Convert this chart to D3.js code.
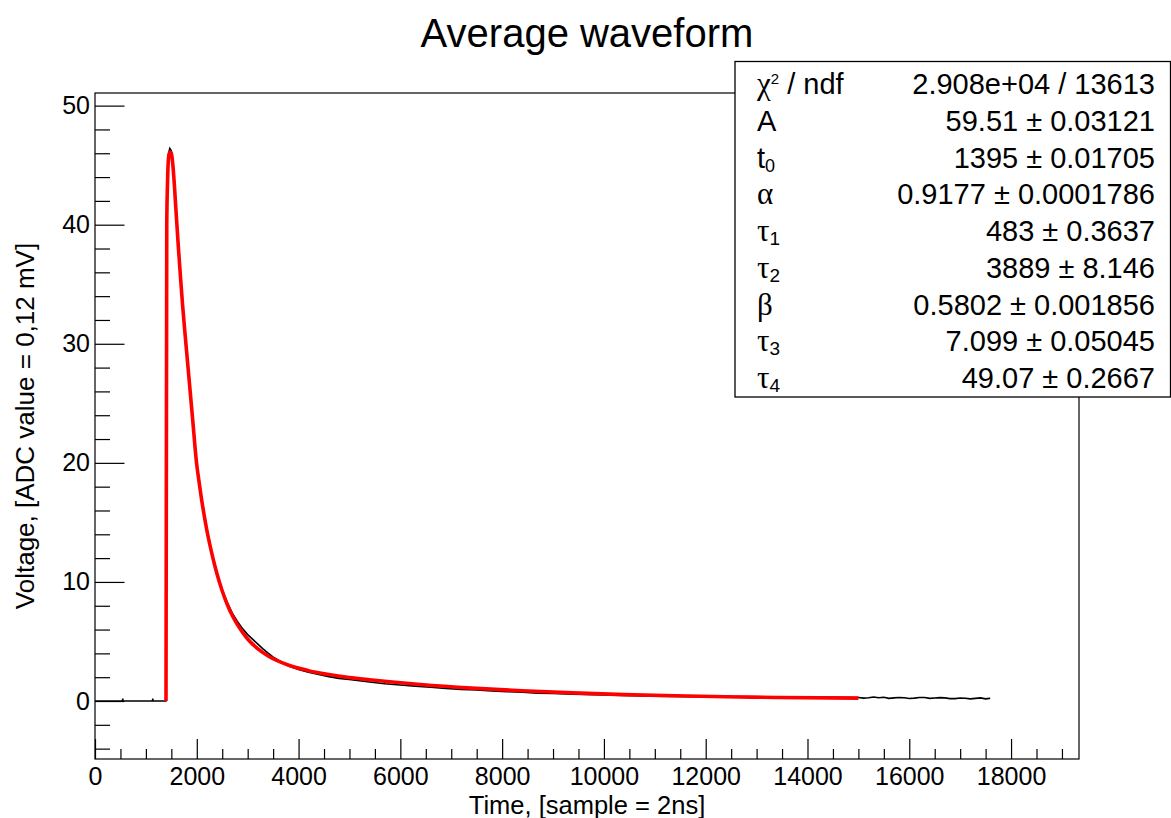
<!DOCTYPE html>
<html>
<head>
<meta charset="utf-8">
<script src="https://cdn.jsdelivr.net/npm/d3@7"></script>
<style>
  html, body { margin: 0; padding: 0; background: #fff; }
  svg { display: block; }
  text { font-family: "Liberation Sans", Arial, sans-serif; fill: #000; }
</style>
</head>
<body>
<svg id="chart" width="1171" height="818"></svg>
<script>
// ---------------- data ----------------
const titleText = "Average waveform";
const xTitle = "Time, [sample = 2ns]";
const yTitle = "Voltage, [ADC value = 0,12 mV]";

const xMajorTicks = [0, 2000, 4000, 6000, 8000, 10000, 12000, 14000, 16000, 18000];
const yMajorTicks = [0, 10, 20, 30, 40, 50];

// measured histogram (black)
const dataT = [0, 540, 545, 550, 1130, 1135, 1140, 1395, 1410, 1425, 1445, 1470, 1500, 1530, 1560, 1600, 1640, 1680, 1720, 1770, 1820, 1870, 1920, 1995,
  2095, 2195, 2295, 2395, 2495, 2595, 2695, 2795, 2895, 2995, 3095, 3195, 3295, 3395, 3495, 3595, 3795, 3995, 4195, 4395, 4595, 4795, 4995,
  5195, 5395, 5695, 5995, 6295, 6595, 6895, 7195, 7495, 7795, 8095, 8395, 8695, 8995, 9395, 9795, 10195, 10595, 10995, 11395, 11795,
  12195, 12595, 12995, 13395, 13795, 14195, 14595, 15000, 15100, 15200, 15300, 15400, 15500, 15600, 15700, 15800, 15900, 16000, 16100,
  16200, 16300, 16400, 16500, 16600, 16700, 16800, 16900, 17000, 17100, 17200, 17300, 17400, 17500, 17580, 17590];
const dataV = [0, 0, 0.2, 0, 0, 0.2, 0, 0, 40.5, 43.8, 46.0, 46.4, 46.2, 45.2, 43.6, 40.9, 38.3, 35.8, 33.5, 31.0, 28.5, 26.1, 23.7, 20.1,
  17.0, 14.5, 12.5, 10.8, 9.4, 8.3, 7.4, 6.7, 6.1, 5.6, 5.2, 4.8, 4.4, 4.05, 3.7, 3.45, 2.95, 2.65, 2.42, 2.22, 2.05, 1.9, 1.8,
  1.7, 1.6, 1.45, 1.35, 1.25, 1.15, 1.05, 0.98, 0.92, 0.85, 0.78, 0.74, 0.66, 0.64, 0.58, 0.52, 0.48, 0.45, 0.40, 0.38, 0.36,
  0.35, 0.33, 0.34, 0.33, 0.34, 0.33, 0.32, 0.30, 0.24, 0.28, 0.33, 0.27, 0.31, 0.22, 0.26, 0.30, 0.27, 0.21, 0.24, 0.29,
  0.30, 0.22, 0.25, 0.28, 0.26, 0.20, 0.20, 0.25, 0.23, 0.18, 0.22, 0.26, 0.18, 0.22, 0.20, 0.0];

// fit curve (red)
const fitT = [1395, 1410, 1425, 1445, 1470, 1500, 1530, 1560, 1600, 1640, 1680, 1720, 1770, 1820, 1870, 1920, 1995, 2045, 2095, 2145, 2195,
  2295, 2395, 2495, 2595, 2695, 2795, 2995, 3195, 3395, 3795, 4195, 4595, 4995, 5395, 6395, 7395, 8395, 9395, 10395, 11395, 12395, 13395, 15000];
const fitV = [0, 40.0, 43.5, 45.6, 46.1, 46.0, 45.0, 43.3, 40.6, 38.0, 35.6, 33.3, 30.8, 28.4, 26.0, 23.6, 20.0, 18.4, 16.9, 15.6, 14.4,
  12.4, 10.7, 9.3, 8.15, 7.2, 6.43, 5.23, 4.40, 3.80, 3.02, 2.55, 2.22, 1.97, 1.78, 1.38, 1.08, 0.86, 0.68, 0.54, 0.44, 0.36, 0.30, 0.24];

// fit statistics box
const statLabels = ["chi2", "A", "t0", "alpha", "tau1", "tau2", "beta", "tau3", "tau4"];
const statValues = ["2.908e+04 / 13613", "59.51 \u00b1 0.03121", "1395 \u00b1 0.01705", "0.9177 \u00b1 0.0001786",
  "483 \u00b1 0.3637", "3889 \u00b1 8.146", "0.5802 \u00b1 0.001856", "7.099 \u00b1 0.05045", "49.07 \u00b1 0.2667"];

// ---------------- drawing ----------------
const svg = d3.select("#chart");
svg.append("rect").attr("width", 1171).attr("height", 818).attr("fill", "#fff");

const L = 95, R = 1079, T = 93, B = 759;
const x = d3.scaleLinear().domain([0, 19335]).range([L, R]);
const y = d3.scaleLinear().domain([-4.87, 51.06]).range([B, T]);

// frame
svg.append("rect").attr("x", L).attr("y", T).attr("width", R - L).attr("height", B - T)
  .attr("fill", "none").attr("stroke", "#000").attr("stroke-width", 1.2);

// minor ticks
const xMinor = d3.range(0, 19335, 500).filter(v => v % 2000 !== 0);
const yMinor = d3.range(-4, 51, 2).filter(v => v % 10 !== 0);

const gxMinor = svg.append("g").attr("transform", `translate(0,${B})`)
  .call(d3.axisBottom(x).tickValues(xMinor).tickSize(-10).tickFormat(""));
const gxMajor = svg.append("g").attr("transform", `translate(0,${B})`)
  .call(d3.axisBottom(x).tickValues(xMajorTicks).tickSize(-20).tickPadding(8).tickFormat(d3.format("d")));
const gyMinor = svg.append("g").attr("transform", `translate(${L},0)`)
  .call(d3.axisLeft(y).tickValues(yMinor).tickSize(-15).tickFormat(""));
const gyMajor = svg.append("g").attr("transform", `translate(${L},0)`)
  .call(d3.axisLeft(y).tickValues(yMajorTicks).tickSize(-29.5).tickPadding(5).tickFormat(d3.format("d")));

[gxMinor, gxMajor, gyMinor, gyMajor].forEach(g => {
  g.select(".domain").remove();
  g.selectAll("line").attr("stroke", "#000").attr("stroke-width", 1.2);
  g.selectAll("text").style("font-family", "'Liberation Sans', Arial, sans-serif").style("font-size", "25px").attr("fill", "#000");
});

// clip
svg.append("clipPath").attr("id", "clip").append("rect")
  .attr("x", L).attr("y", T).attr("width", R - L).attr("height", B - T);

const dataPts = dataT.map((t, i) => [t, dataV[i]]);
const fitPts = fitT.map((t, i) => [t, fitV[i]]);

const dataLine = d3.line().x(d => x(d[0])).y(d => y(d[1]));
const fitLine = d3.line().x(d => x(d[0])).y(d => y(d[1])).curve(d3.curveMonotoneX);

svg.append("path").datum(dataPts).attr("clip-path", "url(#clip)")
  .attr("d", dataLine).attr("fill", "none").attr("stroke", "#000").attr("stroke-width", 1.6);

svg.append("path").datum(fitPts).attr("clip-path", "url(#clip)")
  .attr("d", fitLine).attr("fill", "none").attr("stroke", "#ff0000").attr("stroke-width", 3.6)
  .attr("stroke-linejoin", "round");

// title
svg.append("text").attr("x", 587).attr("y", 47).attr("text-anchor", "middle")
  .style("font-size", "40px").text(titleText);

// axis titles
svg.append("text").attr("x", (L + R) / 2).attr("y", 814).attr("text-anchor", "middle")
  .style("font-size", "25.5px").text(xTitle);
svg.append("text").attr("transform", `translate(34,${(T + B) / 2}) rotate(-90)`).attr("text-anchor", "middle")
  .style("font-size", "26px").text(yTitle);

// stats box
const bx = 735, by = 61.5, bw = 435.5, bh = 335.5;
svg.append("rect").attr("x", bx).attr("y", by).attr("width", bw).attr("height", bh)
  .attr("fill", "#fff").attr("stroke", "#000").attr("stroke-width", 1.3);

const row0 = 94, rowStep = 36.75, labX = 757, valX = 1155, fs = 29;
const greek = { alpha: "\u03b1", beta: "\u03b2", tau: "\u03c4", chi: "\u03c7" };
const serif = "'Liberation Serif', 'DejaVu Serif', serif";

statLabels.forEach((lab, i) => {
  const yy = row0 + i * rowStep;
  const t = svg.append("text").attr("x", labX).attr("y", yy).style("font-size", fs + "px");
  if (lab === "chi2") {
    t.append("tspan").style("font-family", serif).style("font-size", "31px").text(greek.chi);
    t.append("tspan").attr("dy", -10).style("font-size", "15px").text("2");
    t.append("tspan").attr("dy", 10).text(" / ndf");
  } else if (lab === "A") {
    t.text("A");
  } else if (lab === "t0") {
    t.append("tspan").text("t");
    t.append("tspan").attr("dy", 4).style("font-size", "18px").text("0");
  } else if (lab === "alpha") {
    t.append("tspan").style("font-family", serif).style("font-size", "31px").text(greek.alpha);
  } else if (lab === "beta") {
    t.append("tspan").style("font-family", serif).style("font-size", "31px").text(greek.beta);
  } else {
    t.append("tspan").style("font-family", serif).style("font-size", "31px").text(greek.tau);
    t.append("tspan").attr("dy", 4).style("font-size", "19px").text(lab.slice(3));
  }
  svg.append("text").attr("x", valX).attr("y", yy).attr("text-anchor", "end")
    .style("font-size", fs + "px").text(statValues[i]);
});
</script>
</body>
</html>
